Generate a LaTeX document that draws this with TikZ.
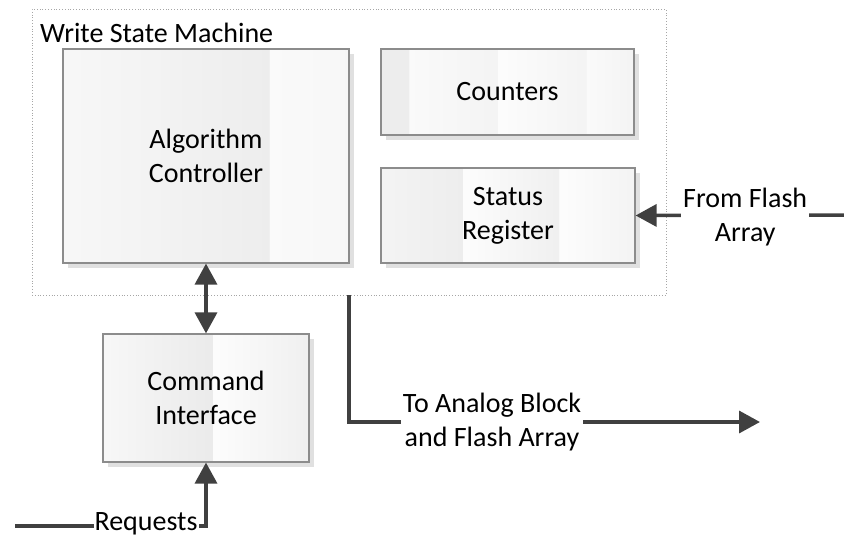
\documentclass[tikz,border=0pt]{standalone}
\usepackage{fontspec}
\setmainfont{Carlito}
\usepackage{tikz}
\usetikzlibrary{arrows.meta, positioning, shadows}

% band colours of the boxes
\definecolor{linegray}{HTML}{404040}
\definecolor{framegray}{HTML}{8C8C8C}
\definecolor{shadowgray}{HTML}{E0E0E0}
\definecolor{gA}{gray}{0.99}
\definecolor{gB}{gray}{0.98}
\definecolor{gC}{gray}{0.97}
\definecolor{gD}{gray}{0.955}
\definecolor{gE}{gray}{0.94}
\definecolor{gF}{gray}{0.93}
\definecolor{gG}{gray}{0.92}

% banded fills (the box maps to 25bp--75bp)
\pgfdeclarehorizontalshading{ctrlfill}{100bp}{color(0bp)=(gC); color(25bp)=(gC);
  color(61bp)=(gF); color(61.05bp)=(gB); color(75bp)=(gC); color(100bp)=(gC)}
\pgfdeclarehorizontalshading{cntfill}{100bp}{color(0bp)=(gF); color(25bp)=(gF);
  color(30.5bp)=(gF); color(30.55bp)=(gB); color(48bp)=(gD); color(48.05bp)=(gA);
  color(65.5bp)=(gD); color(65.55bp)=(gB); color(75bp)=(gD); color(100bp)=(gD)}
\pgfdeclarehorizontalshading{statfill}{100bp}{color(0bp)=(gD); color(25bp)=(gD);
  color(41bp)=(gF); color(41.05bp)=(gA); color(60bp)=(gE); color(60.05bp)=(gA);
  color(75bp)=(gD); color(100bp)=(gD)}
\pgfdeclarehorizontalshading{cmdfill}{100bp}{color(0bp)=(gC); color(25bp)=(gC);
  color(51.5bp)=(gG); color(51.55bp)=(gA); color(75bp)=(gE); color(100bp)=(gE)}

\begin{document}
\begin{tikzpicture}[
    x=1pt, y=-1pt,
    every node/.style={font=\fontsize{28}{34}\selectfont},
    block/.style={rectangle, draw=framegray, line width=1.2pt, align=center,
        drop shadow={shadow xshift=5pt, shadow yshift=-5pt, fill=shadowgray, opacity=1}},
    frame/.style={rectangle, draw=gray!70, dotted, line width=0.8pt},
    link/.style={draw=linegray, line width=3.5pt},
    tag/.style={fill=white, inner sep=2pt, align=center},
    >={Triangle[length=21pt, width=22pt]}
]
\useasboundingbox (0,0) rectangle (844,538);

% Outer frame and its title
\node[frame, minimum width=634pt, minimum height=286pt] (wsm) at (349,152) {};
\node[anchor=base west, inner sep=0pt] (wsmtitle) at (40,42) {Write State Machine};

% Blocks inside the frame
\node[block, shading=ctrlfill, minimum width=286pt, minimum height=214pt] (ctrl) at (206,156) {Algorithm\\Controller};
\node[block, shading=cntfill, minimum width=253pt, minimum height=86pt] (cnt) at (507.5,92) {Counters};
\node[block, shading=statfill, minimum width=254pt, minimum height=95pt] (stat) at (508,215.5) {Status\\Register};

% Block below the frame
\node[block, shading=cmdfill, minimum width=206pt, minimum height=128pt] (cmd) at (206,398) {Command\\Interface};

% Free ends of the connectors
\coordinate (req) at (15,526);
\coordinate (flash) at (844,215);
\coordinate (analog) at (760,422);

% --- Connectors ---
\draw[link, <->] (ctrl.south) -- (cmd.north);
\draw[link, ->] (req) -| (cmd.south) node[tag, pos=0.343, yshift=2.5pt, inner sep=1pt] {Requests};
\draw[link, ->] (flash) -- (stat.east) node[tag, pos=0.474, yshift=-2pt] {From Flash\\Array};
\draw[link, ->] (wsm.south) |- (analog) node[tag, pos=0.674] {To Analog Block\\and Flash Array};

\end{tikzpicture}
\end{document}
